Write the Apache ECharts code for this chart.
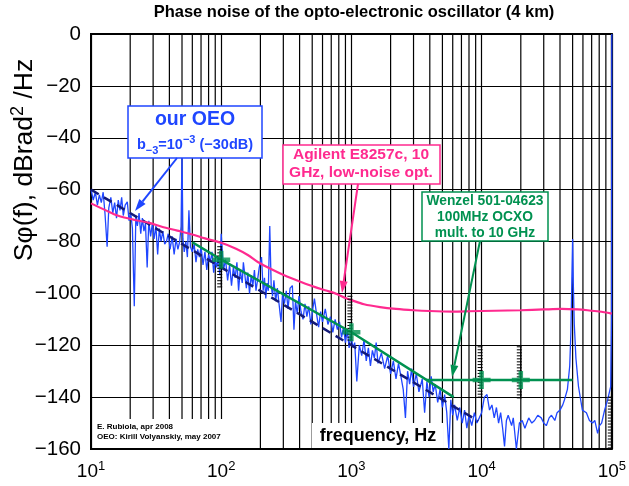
<!DOCTYPE html>
<html><head><meta charset="utf-8">
<script src="https://cdn.jsdelivr.net/npm/echarts@6/dist/echarts.min.js"></script>
<style>html,body{margin:0;padding:0;background:#fff}#c{width:629px;height:486px}</style>
</head><body><div id="c"></div>
<script>
const FONT = '"Liberation Sans", Arial, Helvetica, sans-serif';

// ---- data ----
const xMinorGrid = [20,30,40,50,60,70,80,90,200,300,400,500,600,700,800,900,
  2000,3000,4000,5000,6000,7000,8000,9000,20000,30000,40000,50000,60000,70000,80000,90000];

const oeoData = [
 [10,-60],[10.4,-64],[10.8,-61],[11.2,-66],[11.6,-62],[12.0,-65],[12.4,-61],[12.8,-69],[13.3,-82],[13.7,-67],
 [14.2,-63],[14.7,-69],[15.2,-65],[15.7,-71],[16.2,-64],[16.7,-68],[17.2,-63],[17.7,-70],[18.3,-66],[19.0,-64.7],
 [19.6,-72],[20.2,-69],[20.8,-75],[21.5,-105],[22.1,-70],[22.7,-74],[23.4,-69],[24.1,-77],[24.8,-71],[25.5,-76],
 [26.2,-73],[27.0,-90],[27.8,-72],[28.7,-78],[29.6,-73],[30.5,-79],[31.5,-74],[32.5,-85],[33.5,-75],[34.5,-80],
 [35.6,-76],[36.8,-81],[38.0,-80],[39.2,-77],[40.5,-83],[42.0,-78],[43.5,-85],[45.0,-79],[46.5,-83],[48.0,-80],
 [49.2,-74],[50.0,-44.7],[50.8,-79],[52.0,-84],[53.5,-80],[55.0,-86],[56.5,-68],[58.0,-82],[60.0,-84],[62.0,-81],
 [64.0,-88],[66.0,-83],[68.0,-86],[70.0,-82],[72.5,-89],[75.0,-84],[77.5,-91],[80.0,-85],[82.5,-88],[85.0,-84],
 [87.5,-92],[90.0,-87],[92.5,-90],[95.0,-86],[97.5,-93],[100,-77],
 [104,-91],[108,-87],[112,-95],[116,-89],[120,-97],[124,-90],[128,-94],[132,-88],[136,-99],[140,-91],
 [145,-96],[148,-88],[152,-93],[156,-98],[160,-92],[165,-100],[170,-93],[175,-97],[180,-91],[185,-99],
 [190,-95],[196,-90],[204,-86],[210,-99],[215,-94],[220,-102],[225,-96],[230,-99],[236,-74],[242,-97],
 [248,-101],[254,-95],[262,-103],[270,-98],[278,-104],[288,-111],[296,-100],[306,-104],[316,-99],[326,-106],
 [338,-98],[352,-97],[362,-114],[372,-103],[384,-108],[396,-101],[410,-107],[425,-110],[440,-104],[455,-109],
 [470,-105],[488,-112],[505,-106],[520,-102],[540,-108],[560,-113],[580,-107],[600,-111],[630,-106],[660,-112],
 [690,-109],[720,-115],[750,-110],[780,-114],[810,-111],[840,-117],[870,-113],[900,-119],[930,-114],[960,-121],
 [990,-116],
 [1030,-121],[1060,-119],[1100,-134],[1150,-120],[1200,-124],[1250,-118],[1300,-126],[1350,-121],[1400,-128],[1450,-122],
 [1500,-125],[1550,-119],[1600,-127],[1700,-123],[1800,-129],[1900,-124],[2000,-131],[2100,-126],[2200,-133],[2300,-127],
 [2400,-132],[2500,-137],[2600,-148],[2700,-130],[2800,-135],[2900,-129],[3000,-136],[3150,-131],[3300,-138],[3500,-133],
 [3650,-146],[3800,-134],[3950,-140],[4100,-132],[4250,-138],[4400,-135],[4600,-142],[4800,-137],[5000,-144],[5200,-139],
 [5400,-146],[5600,-160],[5800,-141],[6000,-147],[6200,-143],[6500,-149],[6800,-144],[7100,-150],[7400,-145],[7700,-152],
 [8000,-147],[8400,-151],[8800,-146],[9200,-150],[9600,-148],
 [10000,-146],[10500,-140],[11000,-139],[11500,-145],[12000,-143],[12500,-148],[13000,-144],[13500,-150],[14000,-146],[14500,-152],
 [15000,-159],[15500,-149],[16000,-147],[17000,-151],[17500,-148],[18500,-160],[19500,-150],[20500,-149],[21500,-152],[23000,-148],
 [24300,-150],[25500,-149],[27000,-147],[28700,-148],[30000,-150],[31400,-151],[33000,-148],[34400,-147],[36500,-149],[38000,-146],
 [40000,-145],[42000,-143],[43300,-141],[45600,-137],[47500,-128],[48500,-115],[49300,-95],[50000,-79],[50600,-96],[51500,-112],
 [53000,-125],[55500,-136],[59400,-145],[63800,-146],[67300,-149],[71100,-150],[74000,-149],[77800,-154],[80500,-151],[83500,-150],
 [88000,-145],[92900,-141],[98000,-136],[99500,-110],[100000,0]
];

const agilentData = [
 [10,-65.3],[13,-68],[16,-70],[21.6,-71.7],[28,-72.8],[35,-74.3],[46,-75.8],[60,-77.3],[75,-78.8],[100,-80.5],
 [130,-82.8],[160,-85.2],[191,-87.9],[250,-91],[320,-93.5],[405,-95.5],[520,-97.5],[650,-99],[777,-100.3],[900,-101.8],
 [1000,-102.6],[1250,-104.2],[1660,-105.3],[2200,-106],[3000,-106.5],[3980,-106.8],[6000,-107],[8000,-106.9],[12600,-106.7],[20000,-106.5],
 [30000,-106.2],[41000,-106],[55000,-106.2],[65000,-106.5],[80000,-107],[100000,-107.8]
];

const b3Line = [[10,-60],[9400,-149.2]];
const wenzelSlope = [[60,-80.3],[100,-87],[1000,-115],[6100,-140]];
const wenzelFloor = [[3740,-133.4],[50000,-133.4]];
const wenzelMarks = [[100,-87],[1000,-115],[10000,-133.4],[20000,-133.4]];
const combs = [[100,-82,-97.5],[1000,-100,-118],[10000,-120.6,-140],[20000,-120.6,-140.3],[100000,-140,-159.6]];

// ---- colours ----
const BLUE = '#1f46ff', NAVY = '#141a78', PINK = '#ff2a8f', GREEN = '#009150';

function arrow(x1, y1, x2, y2, color) {
  const dx = x2 - x1, dy = y2 - y1, L = Math.hypot(dx, dy);
  const ux = dx / L, uy = dy / L, hl = 12, hw = 4;
  const bx = x2 - ux * hl, by = y2 - uy * hl;
  return [
    {type:'line', shape:{x1, y1, x2: bx, y2: by}, style:{stroke: color, lineWidth: 2}, z: 100},
    {type:'polygon', shape:{points:[[x2,y2],[bx - uy*hw, by + ux*hw],[bx + uy*hw, by - ux*hw]]}, style:{fill: color}, z: 100}
  ];
}

const chart = echarts.init(document.getElementById('c'), null, {renderer:'canvas'});

const option = {
  animation: false,
  backgroundColor: '#fff',
  textStyle: {fontFamily: FONT},
  grid: {left: 91, right: 11, top: 34, bottom: 37, show: true, borderColor: '#000', borderWidth: 2, backgroundColor: 'transparent'},
  xAxis: {
    type: 'log', logBase: 10, min: 10, max: 100000,
    axisLine: {show: true, lineStyle: {color: '#000', width: 2}},
    axisTick: {show: false},
    splitLine: {show: true, lineStyle: {color: '#000', width: 1.2}},
    axisLabel: {
      margin: 11, color: '#000',
      formatter: v => '{n|10}{e|' + Math.round(Math.log10(v)) + '}',
      rich: {n: {fontSize: 19, lineHeight: 24, fontFamily: FONT, color:'#000'},
             e: {fontSize: 13, lineHeight: 13, verticalAlign: 'top', fontFamily: FONT, color:'#000'}}
    }
  },
  yAxis: {
    type: 'value', min: -160, max: 0, interval: 20,
    axisLine: {show: true, lineStyle: {color: '#000', width: 2}},
    axisTick: {show: false},
    splitLine: {show: true, lineStyle: {color: '#000', width: 1.2}},
    axisLabel: {margin: 10, color: '#000', fontSize: 20.5, fontFamily: FONT,
      formatter: v => String(v).replace('-', '\u2212')}
  },
  series: [
    {type: 'custom', z: 1, silent: true, data: xMinorGrid.map(v => [v]),
     renderItem: (params, api) => {
       const a = api.coord([api.value(0), 0]), b = api.coord([api.value(0), -160]);
       return {type: 'line', shape: {x1: a[0], y1: a[1], x2: b[0], y2: b[1]}, style: {stroke: '#000', lineWidth: 1.2}};
     }},
    {type: 'line', z: 2, data: oeoData, symbol: 'none', lineStyle: {color: BLUE, width: 1.3}, clip: true},
    {type: 'line', z: 3, data: b3Line, symbol: 'none', lineStyle: {color: NAVY, width: 2.5, type: [9, 6]}},
    {type: 'line', z: 4, data: agilentData, symbol: 'none', smooth: 0.3, lineStyle: {color: PINK, width: 2.2}},
    {type: 'line', z: 5, data: wenzelSlope, symbol: 'none', lineStyle: {color: GREEN, width: 2.5}},
    {type: 'line', z: 5, data: wenzelFloor, symbol: 'none', lineStyle: {color: GREEN, width: 2.5}},
    {type: 'custom', z: 6, silent: true, data: combs,
     renderItem: (params, api) => {
       const t = api.coord([api.value(0), api.value(1)]), b = api.coord([api.value(0), api.value(2)]);
       const kids = [{type: 'line', shape: {x1: t[0], y1: t[1], x2: b[0], y2: b[1]}, style: {stroke: '#000', lineWidth: 1}}];
       const n = Math.max(2, Math.round((b[1] - t[1]) / 3));
       for (let i = 0; i <= n; i++) {
         const y = t[1] + (b[1] - t[1]) * i / n;
         kids.push({type: 'line', shape: {x1: t[0] - 4, y1: y, x2: t[0] + 1, y2: y}, style: {stroke: '#000', lineWidth: 1}});
       }
       return {type: 'group', children: kids};
     }},
    {type: 'scatter', z: 7, data: wenzelMarks, symbol: 'path://M6,0H10V6H16V10H10V16H6V10H0V6H6Z', symbolSize: 18,
     itemStyle: {color: GREEN}}
  ],
  graphic: [
    {type: 'text', x: 354, y: 12, style: {text: 'Phase noise of the opto-electronic oscillator (4 km)', font: 'bold 16.5px ' + FONT, fill: '#000', align: 'center', verticalAlign: 'middle'}},
    {type: 'text', x: 25, y: 160, rotation: Math.PI / 2,
     style: {text: '{a|S\u03c6(f), dBrad}{s|2}{a| /Hz}', align: 'center', verticalAlign: 'middle',
       rich: {a: {fontSize: 26.5, lineHeight: 32, fontFamily: FONT, fill: '#000'},
              s: {fontSize: 18, lineHeight: 18, verticalAlign: 'top', fontFamily: FONT, fill: '#000'}}}},
    // frequency label
    {type: 'rect', shape: {x: 312, y: 423, width: 131, height: 25}, style: {fill: '#fff'}, z: 50},
    {type: 'text', x: 378, y: 436, z: 51, style: {text: 'frequency, Hz', font: 'bold 18px ' + FONT, fill: '#000', align: 'center', verticalAlign: 'middle'}},
    // credits
    {type: 'rect', shape: {x: 93, y: 419, width: 132, height: 29}, style: {fill: '#fff'}, z: 50},
    {type: 'text', x: 97, y: 427, z: 51, style: {text: 'E. Rubiola, apr 2008', font: 'bold 8px ' + FONT, fill: '#000', verticalAlign: 'middle'}},
    {type: 'text', x: 97, y: 436.5, z: 51, style: {text: 'OEO: Kirill Volyanskiy, may 2007', font: 'bold 8px ' + FONT, fill: '#000', verticalAlign: 'middle'}},
    // OEO box
    {type: 'rect', shape: {x: 128, y: 106, width: 134, height: 52}, style: {fill: '#fff', stroke: BLUE, lineWidth: 1.5}, z: 60},
    {type: 'text', x: 195, y: 120, z: 61, style: {text: 'our OEO', font: 'bold 19.5px ' + FONT, fill: BLUE, align: 'center', verticalAlign: 'middle'}},
    {type: 'text', x: 195, y: 145, z: 61, style: {text: '{b|b}{sub|\u22123}{b|=10}{sup|\u22123}{b| (\u221230dB)}', align: 'center', verticalAlign: 'middle',
       rich: {b: {fontSize: 14.5, fontWeight: 'bold', lineHeight: 22, fontFamily: FONT, fill: BLUE},
              sub: {fontSize: 11, fontWeight: 'bold', lineHeight: 11, verticalAlign: 'bottom', fontFamily: FONT, fill: BLUE},
              sup: {fontSize: 11, fontWeight: 'bold', lineHeight: 11, verticalAlign: 'top', fontFamily: FONT, fill: BLUE}}}},
    ...arrow(177, 158, 135, 211, BLUE),
    // Agilent box
    {type: 'rect', shape: {x: 283, y: 145, width: 157, height: 39}, style: {fill: '#fff', stroke: PINK, lineWidth: 1.5}, z: 60},
    {type: 'text', x: 361, y: 155, z: 61, style: {text: 'Agilent E8257c, 10', font: 'bold 15.5px ' + FONT, fill: PINK, align: 'center', verticalAlign: 'middle'}},
    {type: 'text', x: 361, y: 173, z: 61, style: {text: 'GHz, low-noise opt.', font: 'bold 15.5px ' + FONT, fill: PINK, align: 'center', verticalAlign: 'middle'}},
    ...arrow(358, 184, 342, 293, PINK),
    // Wenzel box
    {type: 'rect', shape: {x: 422, y: 192, width: 126, height: 49}, style: {fill: '#fff', stroke: GREEN, lineWidth: 1.5}, z: 60},
    {type: 'text', x: 485, y: 201, z: 61, style: {text: 'Wenzel 501-04623', font: 'bold 13.8px ' + FONT, fill: GREEN, align: 'center', verticalAlign: 'middle'}},
    {type: 'text', x: 485, y: 217, z: 61, style: {text: '100MHz OCXO', font: 'bold 13.8px ' + FONT, fill: GREEN, align: 'center', verticalAlign: 'middle'}},
    {type: 'text', x: 485, y: 233, z: 61, style: {text: 'mult. to 10 GHz', font: 'bold 13.8px ' + FONT, fill: GREEN, align: 'center', verticalAlign: 'middle'}},
    ...arrow(480, 241, 452, 377, GREEN)
  ]
};
chart.setOption(option);
</script></body></html>
